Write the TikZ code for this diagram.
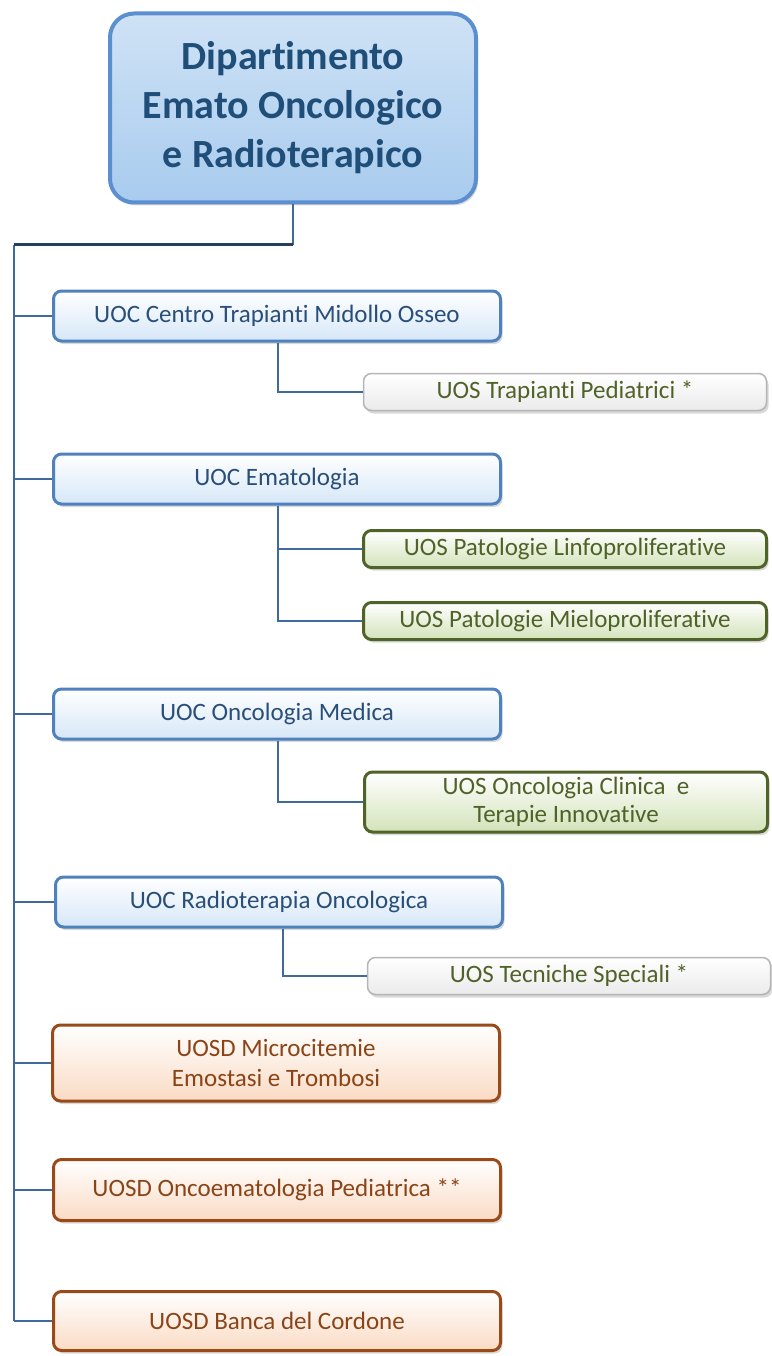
\documentclass[tikz,border=0pt]{standalone}
\usepackage{fontspec}
\setmainfont{Carlito}[Ligatures={NoCommon}]
\usetikzlibrary{shadows}

\definecolor{linkblue}{HTML}{3F6A9E}
\definecolor{linknavy}{HTML}{243F60}
\definecolor{deptfill}{HTML}{A8CBEE}
\definecolor{deptline}{HTML}{5B8FCF}
\definecolor{depttext}{HTML}{1F4E79}
\definecolor{uocfill}{HTML}{D6E7F8}
\definecolor{uocline}{HTML}{4F81BD}
\definecolor{uoctext}{HTML}{2A4E7A}
\definecolor{uosfill}{HTML}{D3E3BA}
\definecolor{uosline}{HTML}{4F6228}
\definecolor{uostext}{HTML}{4F6228}
\definecolor{uoswline}{HTML}{B5B5B5}
\definecolor{uosdfill}{HTML}{FADBC4}
\definecolor{uosdline}{HTML}{9A4A17}
\definecolor{uosdtext}{HTML}{8A4418}

\tikzset{
  box/.style={rounded corners=8pt, align=center, inner sep=2pt,
    drop shadow={opacity=0.3, shadow xshift=2pt, shadow yshift=-3pt}},
  dept/.style={box, rounded corners=24pt, line width=4pt, draw=deptline,
    top color=deptfill!55, bottom color=deptfill, text=depttext,
    font=\bfseries\fontsize{40}{49}\selectfont,
    minimum width=366pt, minimum height=189pt},
  uoc/.style={box, line width=3pt, draw=uocline,
    top color=white, bottom color=uocfill, text=uoctext,
    font=\fontsize{25}{30}\selectfont,
    minimum width=447pt, minimum height=50pt},
  uosd/.style={uoc, draw=uosdline, bottom color=uosdfill, text=uosdtext},
  uos/.style={box, line width=3pt, draw=uosline,
    top color=white, bottom color=uosfill, text=uostext,
    font=\fontsize{25}{28}\selectfont,
    minimum width=403pt, minimum height=37pt},
  uosw/.style={uos, line width=1.5pt, draw=uoswline, bottom color=black!8},
  link/.style={draw=linkblue, line width=2pt}
}

\begin{document}
\begin{tikzpicture}[x=1pt,y=-1pt]
  \useasboundingbox (0,0) rectangle (771,1356);

  % direzione
  \node[dept] (dept) at (293,108) {Dipartimento\\Emato Oncologico\\e Radioterapico};

  % unita complesse e dipartimentali
  \node[uoc] (ctmo) at (277,316) {UOC Centro Trapianti Midollo Osseo};
  \node[uoc] (emat) at (277,479) {UOC Ematologia};
  \node[uoc] (onco) at (277,714) {UOC Oncologia Medica};
  \node[uoc] (radio) at (279,902) {UOC Radioterapia Oncologica};
  \node[uosd, minimum height=76pt] (micro) at (276,1063) {UOSD Microcitemie\\Emostasi e Trombosi};
  \node[uosd, minimum height=61pt] (oeped) at (277,1190) {UOSD Oncoematologia Pediatrica **};
  \node[uosd, minimum height=59pt] (banca) at (277,1321) {UOSD Banca del Cordone};

  % unita semplici
  \node[uosw] (trped) at (565,392) {UOS Trapianti Pediatrici *};
  \node[uos] (linfo) at (565,549) {UOS Patologie Linfoproliferative};
  \node[uos] (mielo) at (565,621) {UOS Patologie Mieloproliferative};
  \node[uos, minimum height=60pt] (clin) at (566,802) {UOS Oncologia Clinica \ e\\Terapie Innovative};
  \node[uosw] (tecn) at (569,976) {UOS Tecniche Speciali *};

  % collegamenti
  \coordinate (spine) at (14,245);
  \draw[link] (spine) -- (spine |- banca.west);
  \draw[link] (dept.south) -- (dept.south |- spine);
  \draw[link, draw=linknavy, line width=3pt] (dept.south |- spine) -- (spine);
  \foreach \u in {ctmo,emat,onco,radio,micro,oeped,banca}
    \draw[link] (spine |- \u.west) -- (\u.west);

  \draw[link] (ctmo.south -| 278,0) |- (trped.west);
  \draw[link] (emat.south -| 278,0) |- (linfo.west);
  \draw[link] (emat.south -| 278,0) |- (mielo.west);
  \draw[link] (onco.south -| 278,0) |- (clin.west);
  \draw[link] (radio.south -| 283,0) |- (tecn.west);
\end{tikzpicture}
\end{document}
